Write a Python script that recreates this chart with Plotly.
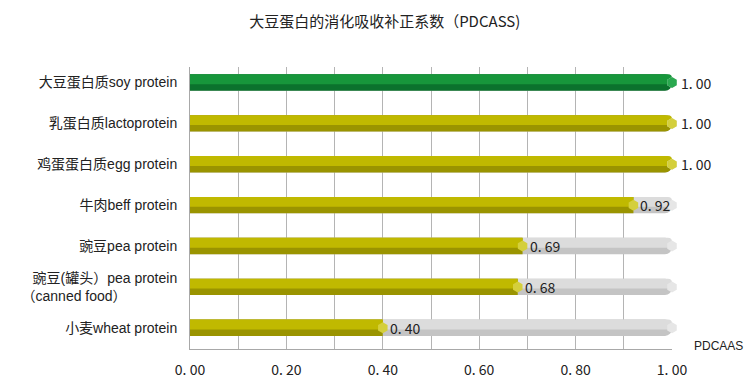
import plotly.graph_objects as go

# ---- data ----
categories = [
    "大豆蛋白质soy protein",
    "乳蛋白质lactoprotein",
    "鸡蛋蛋白质egg protein",
    "牛肉beff protein",
    "豌豆pea protein",
    "豌豆(罐头）pea protein<br>（canned food）\u00a0\u00a0\u00a0\u00a0\u00a0\u00a0\u00a0\u00a0\u00a0\u00a0\u00a0\u00a0\u00a0",
    "小麦wheat protein",
]
values = [1.00, 1.00, 1.00, 0.92, 0.69, 0.68, 0.40]
x_max = 1.0
x_tick_vals = [0.0, 0.1, 0.2, 0.3, 0.4, 0.5, 0.6, 0.7, 0.8, 0.9, 1.0]
x_tick_labels = ["0. 00", "", "0. 20", "", "0. 40", "", "0. 60", "", "0. 80", "", "1. 00"]
title = "大豆蛋白的消化吸收补正系数（PDCASS)"
x_title = "PDCAAS"

# ---- styles ----
highlight = [True, False, False, False, False, False, False]
dark = ["#0b722d" if h else "#9a9400" for h in highlight]
light = ["#17963b" if h else "#c0b900" for h in highlight]
cap = ["#2aa84f" if h else "#d4cf3c" for h in highlight]
BAR_W = 0.40

fig = go.Figure()
track = [x_max] * len(categories)
# grey tracks
fig.add_trace(go.Bar(y=categories, x=track, orientation="h", width=BAR_W, offset=-BAR_W / 2,
                     marker=dict(color="#c4c4c4", cornerradius=7, line=dict(width=0)),
                     hoverinfo="skip", showlegend=False))
fig.add_trace(go.Bar(y=categories, x=track, orientation="h", width=BAR_W * 0.6, offset=-BAR_W / 2,
                     marker=dict(color="#dcdcdc", cornerradius=5, line=dict(width=0)),
                     hoverinfo="skip", showlegend=False))
# value bars
fig.add_trace(go.Bar(y=categories, x=values, orientation="h", width=BAR_W, offset=-BAR_W / 2,
                     marker=dict(color=dark, cornerradius=7, line=dict(width=0)),
                     showlegend=False))
fig.add_trace(go.Bar(y=categories, x=values, orientation="h", width=BAR_W * 0.6, offset=-BAR_W / 2,
                     marker=dict(color=light, cornerradius=5, line=dict(width=0)),
                     showlegend=False))
# end caps
fig.add_trace(go.Scatter(y=categories, x=track, mode="markers",
                         marker=dict(symbol="hexagon", size=11, color="#e6e6e6",
                                     line=dict(width=0)),
                         hoverinfo="skip", showlegend=False, cliponaxis=False))
fig.add_trace(go.Scatter(y=categories, x=values, mode="markers",
                         marker=dict(symbol="hexagon", size=11, color=cap,
                                     line=dict(width=0)),
                         hoverinfo="skip", showlegend=False, cliponaxis=False))

for c, v in zip(categories, values):
    fig.add_annotation(x=v, y=c, text=f"{v:.2f}".replace(".", ". "), showarrow=False,
                       xanchor="left", yanchor="middle", xshift=5 if v < x_max else 7,
                       font=dict(family="Noto Sans CJK SC", size=14, color="#222222"))

fig.add_annotation(x=1.0, y=0, xref="paper", yref="paper", text=x_title, showarrow=False,
                   xanchor="left", yanchor="middle", xshift=20, yshift=3,
                   font=dict(family="Liberation Sans Narrow, Liberation Sans", size=12, color="#222"))

fig.update_layout(
    width=750, height=391,
    margin=dict(l=190, r=78, t=67, b=33),
    paper_bgcolor="white", plot_bgcolor="white",
    barmode="overlay",
    title=dict(text=title, x=0.513, xanchor="center", y=0.945, yanchor="middle",
               font=dict(family="Noto Sans CJK SC", size=15, color="#222")),
    xaxis=dict(range=[0, x_max], tickmode="array", tickvals=x_tick_vals, ticktext=x_tick_labels,
               showgrid=True, gridcolor="#b4b4b4", gridwidth=1, zeroline=False,
               showline=True, linecolor="#a8a8a8", linewidth=1, mirror=False,
               ticks="outside", ticklen=8, tickcolor="rgba(0,0,0,0)",
               tickfont=dict(family="Noto Sans CJK SC", size=14, color="#222")),
    yaxis=dict(categoryorder="array", categoryarray=categories, range=[6.52, -0.38],
               showgrid=False, zeroline=False, showline=True, linecolor="#a8a8a8", linewidth=1,
               ticks="outside", ticklen=9, tickcolor="rgba(0,0,0,0)",
               tickfont=dict(family="Liberation Sans, Noto Sans CJK SC", size=14, color="#222")),
)

fig.write_html("out.html", config={"displayModeBar": False},
               post_script="document.body.style.margin='0';document.body.style.overflow='hidden';")
